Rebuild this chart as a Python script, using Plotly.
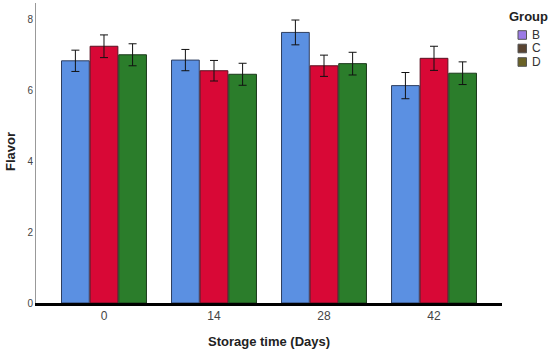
import plotly.graph_objects as go

days = ["0", "14", "28", "42"]
groups = ["B", "C", "D"]
flavor_B = [6.83, 6.85, 7.63, 6.13]
flavor_C = [7.24, 6.55, 6.69, 6.90]
flavor_D = [7.00, 6.45, 6.75, 6.48]
err_B = [0.30, 0.30, 0.35, 0.37]
err_C = [0.32, 0.29, 0.30, 0.34]
err_D = [0.31, 0.31, 0.32, 0.32]
y_ticks = [0, 2, 4, 6, 8]

bar_colors = ["#5b90e2", "#d80836", "#2b7d2b"]
bar_lines = ["#2f3f60", "#5a1020", "#1c3a1c"]
legend_colors = ["#9b7ae6", "#594432", "#6a6226"]

W, H = 550, 352
L, R, T, B = 36, 48, 3, 49

fig = go.Figure()
for g, vals, errs, fc, lc in zip(groups, [flavor_B, flavor_C, flavor_D], [err_B, err_C, err_D], bar_colors, bar_lines):
    fig.add_trace(go.Bar(
        x=days, y=vals, name=g, marker=dict(color=fc, line=dict(color=lc, width=1)),
        error_y=dict(type="data", array=errs, color="#111", thickness=1, width=4),
        showlegend=False,
    ))

def px_x(px):
    return (px - L) / (W - L - R)

def px_y(py):
    return (H - B - py) / (H - T - B)

shapes = []
annotations = [
    dict(text="<b>Group</b>", x=px_x(528), y=px_y(16), xref="paper", yref="paper",
         showarrow=False, font=dict(size=13, color="#222"), xanchor="center", yanchor="middle"),
    dict(text="<b>Flavor</b>", x=px_x(10), y=px_y(152), xref="paper", yref="paper",
         showarrow=False, textangle=-90, font=dict(size=13, color="#222"), xanchor="center", yanchor="middle"),
    dict(text="<b>Storage time (Days)</b>", x=px_x(269), y=px_y(342), xref="paper", yref="paper",
         showarrow=False, font=dict(size=13, color="#222"), xanchor="center", yanchor="middle"),
]
for i, (g, c) in enumerate(zip(groups, legend_colors)):
    cy = 35 + i * 13.5
    shapes.append(dict(type="rect", xref="paper", yref="paper",
                       x0=px_x(518), x1=px_x(526.5), y0=px_y(cy - 4.3), y1=px_y(cy + 4.3),
                       fillcolor=c, line=dict(color="#555", width=1)))
    annotations.append(dict(text=g, x=px_x(529.5), y=px_y(cy), xref="paper", yref="paper",
                            showarrow=False, font=dict(size=12, color="#333"),
                            xanchor="left", yanchor="middle"))

fig.update_layout(
    width=W, height=H,
    margin=dict(l=L, r=R, t=T, b=B),
    plot_bgcolor="white", paper_bgcolor="white",
    barmode="group", bargap=0.22, bargroupgap=0.03,
    showlegend=False,
    font=dict(family="Arial, Liberation Sans, sans-serif", color="#333"),
    shapes=shapes, annotations=annotations,
    xaxis=dict(range=[-0.618, 3.618], showline=True, linecolor="black", linewidth=3,
               ticks="", automargin=False, tickfont=dict(size=12, color="#444")),
    yaxis=dict(range=[0, 8.46], tickvals=y_ticks, showgrid=False, zeroline=False,
               showline=True, linecolor="#999", linewidth=1, ticks="", automargin=False,
               tickfont=dict(size=10, color="#444")),
)
fig.write_html("out.html", config={"displayModeBar": False},
               post_script="document.body.style.margin='0';document.body.style.overflow='hidden';")
